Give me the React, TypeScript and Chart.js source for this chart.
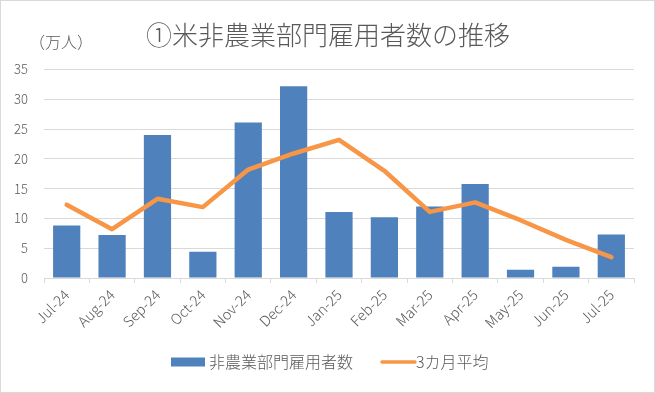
import React, { useEffect, useRef } from 'react';
import { Chart, registerables } from 'chart.js';

Chart.register(...registerables);

const W = 655;
const H = 393;

const titleText = '①米非農業部門雇用者数の推移';
const unitText = '（万人）';
const categories = ['Jul-24', 'Aug-24', 'Sep-24', 'Oct-24', 'Nov-24', 'Dec-24', 'Jan-25', 'Feb-25', 'Mar-25', 'Apr-25', 'May-25', 'Jun-25', 'Jul-25'];
const payrolls = [8.8, 7.2, 24.0, 4.4, 26.1, 32.2, 11.1, 10.2, 12.0, 15.8, 1.4, 1.9, 7.3];
const avg3 = [12.3, 8.2, 13.3, 11.9, 18.2, 20.9, 23.2, 18.0, 11.1, 12.7, 9.7, 6.4, 3.5];
const barLabel = '非農業部門雇用者数';
const lineLabel = '3カ月平均';

const BLUE = '#4F81BD';
const ORANGE = '#F79646';
const TEXT = '#595959';
const GRID = '#d9d9d9';
const JP = '"Noto Sans CJK JP", "Noto Sans", sans-serif';

const decor = {
  id: 'decor',
  beforeDraw(chart: any) {
    const ctx = chart.ctx;
    ctx.save();
    ctx.fillStyle = '#ffffff';
    ctx.fillRect(0, 0, W, H);
    ctx.restore();
  },
  afterDraw(chart: any) {
    const ctx = chart.ctx;
    ctx.save();
    ctx.strokeStyle = GRID;
    ctx.lineWidth = 1;
    ctx.strokeRect(0.5, 0.5, W - 1, H - 1);

    ctx.fillStyle = TEXT;
    ctx.textBaseline = 'middle';
    ctx.textAlign = 'center';
    ctx.font = `300 26px ${JP}`;
    ctx.fillText(titleText, 328, 35);

    ctx.textAlign = 'left';
    ctx.font = `300 16px ${JP}`;
    ctx.fillText(unitText, 29, 42);

    // legend
    const ly = 362;
    const ds = chart.data.datasets;
    ctx.fillStyle = ds[1].backgroundColor;
    ctx.fillRect(171, ly - 4.5, 34, 9);
    ctx.fillStyle = TEXT;
    ctx.font = `300 16px ${JP}`;
    ctx.fillText(ds[1].label, 209, ly);

    ctx.strokeStyle = ds[0].borderColor;
    ctx.lineWidth = 3.5;
    ctx.lineCap = 'round';
    ctx.beginPath();
    ctx.moveTo(382, ly);
    ctx.lineTo(415, ly);
    ctx.stroke();
    ctx.fillText(ds[0].label, 416, ly);
    ctx.restore();
  },
};

export default function App() {
  const ref = useRef<HTMLCanvasElement>(null);
  useEffect(() => {
    document.body.style.margin = '0';
    const chart = new Chart(ref.current as HTMLCanvasElement, {
      type: 'bar',
      data: {
        labels: categories,
        datasets: [
          {
            type: 'line',
            label: lineLabel,
            data: avg3,
            borderColor: ORANGE,
            backgroundColor: ORANGE,
            borderWidth: 4.5,
            pointRadius: 0,
            tension: 0,
            borderCapStyle: 'round',
            borderJoinStyle: 'round',
            order: 0,
          } as any,
          {
            type: 'bar',
            label: barLabel,
            data: payrolls,
            backgroundColor: BLUE,
            borderWidth: 0,
            barPercentage: 0.6,
            categoryPercentage: 1.0,
            order: 1,
          } as any,
        ],
      },
      options: {
        animation: false,
        responsive: false,
        devicePixelRatio: 1,
        layout: { padding: { left: 0, right: 21, top: 69.5, bottom: 55 } },
        plugins: {
          legend: { display: false },
          title: { display: false },
          tooltip: { enabled: false },
        },
        scales: {
          x: {
            grid: {
              offset: true,
              drawOnChartArea: false,
              drawTicks: true,
              tickLength: 5,
              color: GRID,
            },
            border: { display: true, color: GRID },
            ticks: {
              color: TEXT,
              font: { family: JP, size: 14.5, weight: '300' as any },
              minRotation: 45,
              maxRotation: 45,
              padding: 3,
              autoSkip: false,
            },
            afterFit: (s: any) => {
              s.height = 60;
            },
          },
          y: {
            min: 0,
            max: 35,
            grid: { color: GRID, drawTicks: false },
            border: { display: false },
            ticks: {
              stepSize: 5,
              color: TEXT,
              font: { family: JP, size: 13, weight: '300' as any },
              padding: 16,
            },
            afterFit: (s: any) => {
              s.width = 44;
            },
          },
        },
      },
      plugins: [decor],
    });
    return () => chart.destroy();
  }, []);
  return (
    <div style={{ position: 'absolute', left: 0, top: 0, width: W, height: H, background: '#fff' }}>
      <canvas ref={ref} width={W} height={H} style={{ display: 'block', width: W, height: H }} />
    </div>
  );
}
